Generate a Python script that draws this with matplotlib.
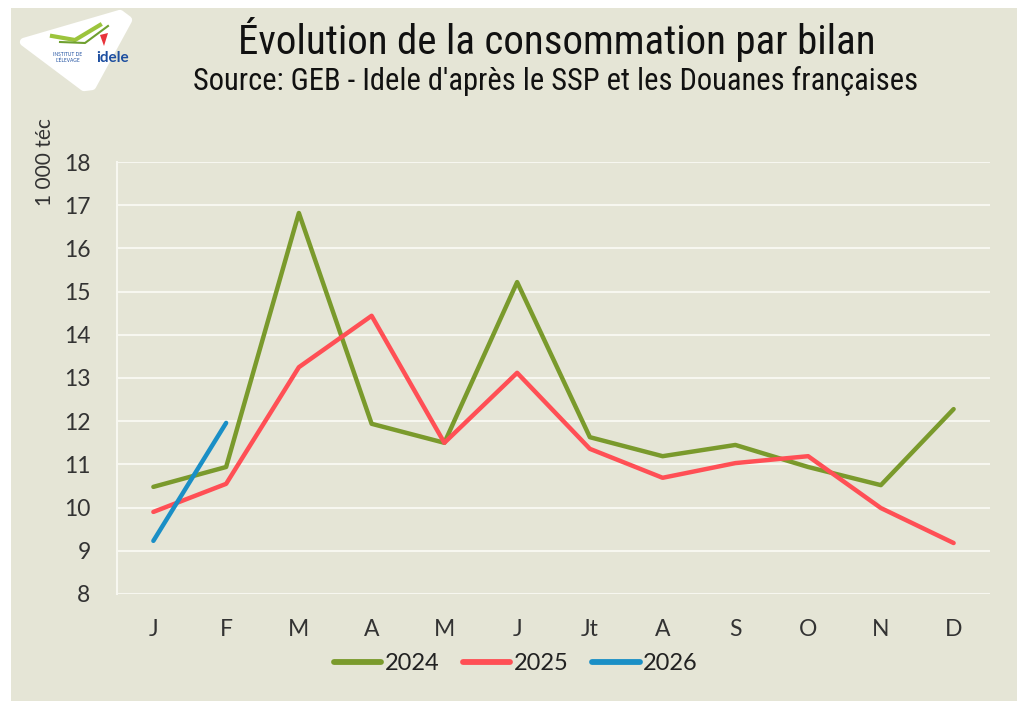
import matplotlib
matplotlib.use("Agg")
import matplotlib.pyplot as plt
from matplotlib.patches import Rectangle, Polygon

months = ["J", "F", "M", "A", "M", "J", "Jt", "A", "S", "O", "N", "D"]
s2024 = [10.48, 10.94, 16.82, 11.94, 11.50, 15.22, 11.63, 11.19, 11.45, 10.94, 10.52, 12.28]
s2025 = [9.90, 10.55, 13.25, 14.44, 11.50, 13.12, 11.36, 10.69, 11.03, 11.19, 9.99, 9.18]
s2026 = [9.23, 11.96]
series_names = ["2024", "2025", "2026"]
yticks = [8, 9, 10, 11, 12, 13, 14, 15, 16, 17, 18]

BG = "#E5E5D6"
colors = ["#7A9A2C", "#FF4F55", "#1A8FC6"]

plt.rcParams["font.family"] = ["Lato", "DejaVu Sans"]
COND = ["Liberation Sans Narrow", "Roboto Condensed", "Open Sans Condensed", "Lato", "DejaVu Sans"]

W, H = 1017, 701
fig = plt.figure(figsize=(W / 100, H / 100), dpi=100)
fig.patch.set_facecolor("white")


def fx(x):
    return x / W


def fy(y):
    return 1 - y / H


fig.patches.append(Rectangle((11 / W, 0), 1 - 11 / W, 1 - 8 / H, transform=fig.transFigure,
                             facecolor=BG, edgecolor="none", zorder=-10))

ax = fig.add_axes([fx(117), fy(594), fx(990) - fx(117), (594 - 162) / H])
ax.set_zorder(2)
ax.set_facecolor(BG)
x = list(range(len(months)))
ax.plot(x, s2024, color=colors[0], lw=3.2, label=series_names[0], solid_capstyle="round", zorder=3)
ax.plot(x, s2025, color=colors[1], lw=3.2, label=series_names[1], solid_capstyle="round", zorder=3)
ax.plot(x[:len(s2026)], s2026, color=colors[2], lw=3.2, label=series_names[2], solid_capstyle="round", zorder=4)

ax.set_xlim(-0.5, 11.5)
ax.set_ylim(8, 18)
ax.set_yticks(yticks)
ax.set_xticks(x)
ax.set_xticklabels(months)
ax.grid(axis="y", color="#F7F7F0", lw=1.5)
ax.set_axisbelow(True)
for s in ["top", "right", "bottom"]:
    ax.spines[s].set_visible(False)
ax.spines["left"].set_color("#F7F7F0")
ax.spines["left"].set_linewidth(1.5)
ax.tick_params(axis="both", length=0, labelsize=16.5, colors="#333333")
ax.tick_params(axis="y", pad=19)
ax.tick_params(axis="x", pad=18)

fig.text(fx(45), fy(162), "1 000 téc", rotation=90, ha="center", va="center", fontsize=15, color="#333333")

fig.text(fx(557), fy(40), "Évolution de la consommation par bilan", ha="center", va="center",
         fontsize=29.5, color="#111111", family=COND)
fig.text(fx(556), fy(81), "Source: GEB - Idele d'après le SSP et les Douanes françaises", ha="center", va="center",
         fontsize=22, color="#111111", family=COND)

leg = fig.legend(loc="center", bbox_to_anchor=(fx(516), fy(664)), ncol=3, frameon=False, fontsize=17,
                 handlelength=2.0, handletextpad=0.15, columnspacing=1.0)
for t in leg.get_texts():
    t.set_color("#222222")
for ln in leg.get_lines():
    ln.set_linewidth(4.2)
    ln.set_solid_capstyle("round")

# logo approximation
logo = Polygon([[fx(24), fy(42)], [fx(120), fy(14)], [fx(128), fy(20)], [fx(92), fy(86)], [fx(84), fy(87)]],
               closed=True, transform=fig.transFigure, facecolor="white", edgecolor="white", lw=6,
               joinstyle="round", zorder=1)
fig.patches.append(logo)
fig.lines.append(plt.Line2D([fx(52), fx(75), fx(100)], [fy(36), fy(40), fy(25)], transform=fig.transFigure,
                            color="#9CC43C", lw=3, zorder=2))
fig.lines.append(plt.Line2D([fx(60), fx(85), fx(108)], [fy(42), fy(43), fy(26)], transform=fig.transFigure,
                            color="#6FA030", lw=1.5, zorder=2))
fig.text(fx(96), fy(58), "idele", ha="left", va="center", fontsize=11, color="#1E4FA0", weight="bold", zorder=3)
fig.text(fx(68), fy(55), "INSTITUT DE", ha="center", va="center", fontsize=3.5, color="#1E4FA0", zorder=3)
fig.text(fx(68), fy(60), "L'ÉLEVAGE", ha="center", va="center", fontsize=3.5, color="#1E4FA0", zorder=3)
fig.patches.append(Polygon([[fx(100), fy(35)], [fx(108), fy(33)], [fx(104), fy(46)]], closed=True,
                           transform=fig.transFigure, facecolor="#E8343A", edgecolor="none", zorder=2))

fig.savefig("out.png", dpi=100, facecolor=fig.get_facecolor())
